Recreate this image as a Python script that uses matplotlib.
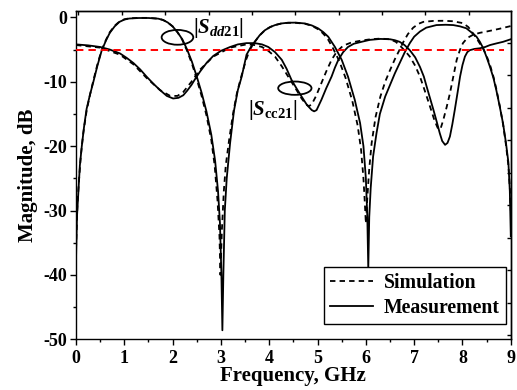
import numpy as np
import matplotlib
matplotlib.use("Agg")
import matplotlib.pyplot as plt
from matplotlib.patches import Ellipse
from matplotlib.ticker import MultipleLocator, NullLocator

# ---- data ----
# |Sdd21| measured
dd_meas_f = [0, 0.02, 0.05, 0.08, 0.12, 0.17, 0.22, 0.29, 0.36, 0.44, 0.53, 0.62, 0.70, 0.80, 0.90,
             1.0, 1.1, 1.3, 1.5, 1.7, 1.8, 1.9, 2.0, 2.1, 2.2, 2.3, 2.4, 2.5, 2.6, 2.7, 2.8, 2.88,
             2.94, 2.98, 3.01, 3.03, 3.05, 3.08, 3.12, 3.19, 3.27, 3.35, 3.43, 3.53, 3.62, 3.7, 3.8,
             3.91, 4.02, 4.12, 4.25, 4.39, 4.55, 4.74, 4.88, 5.01, 5.12, 5.22, 5.36, 5.5, 5.63, 5.77,
             5.88, 5.95, 6.0, 6.03, 6.05, 6.07, 6.1, 6.15, 6.22, 6.29, 6.4, 6.5, 6.6, 6.7, 6.8, 6.91,
             7.0, 7.12, 7.25, 7.46, 7.65, 7.81, 7.95, 8.08, 8.18, 8.29, 8.36, 8.43, 8.5, 8.57, 8.64,
             8.7, 8.77, 8.84, 8.9, 8.95, 8.98, 9.0]
dd_meas_db = [-37.6, -31, -27, -23, -20, -16.8, -14.2, -12, -10, -7.6, -5.2, -3.6, -2.4, -1.4, -0.7,
              -0.35, -0.18, -0.1, -0.1, -0.2, -0.4, -0.8, -1.4, -2.3, -3.4, -5.0, -6.9, -9.2, -11.7,
              -14.6, -18.2, -22.3, -27, -32, -40, -48.6, -40, -30, -25, -19.5, -14.5, -11.3, -9.2,
              -5.8, -4.6, -3.8, -2.8, -2.0, -1.5, -1.2, -0.95, -0.83, -0.82, -0.95, -1.25, -1.7,
              -2.3, -3.0, -4.6, -6.6, -9.2, -12.8, -16.4, -20, -25, -31, -39, -31, -26.5, -21.6,
              -18, -15, -12.3, -10.5, -8.7, -7.1, -5.5, -4.0, -3.0, -2.2, -1.6, -1.2, -1.15, -1.2,
              -1.4, -1.7, -2.3, -3.0, -3.8, -4.8, -6.2, -7.7, -9.4, -11.3, -13.8, -16.5, -19.5,
              -22.5, -27, -34]

# |Sdd21| simulated
dd_sim_f = [0, 0.03, 0.06, 0.1, 0.15, 0.22, 0.29, 0.36, 0.44, 0.53, 0.62, 0.70, 0.80, 0.90, 1.0,
            1.1, 1.3, 1.5, 1.7, 1.8, 1.9, 2.0, 2.1, 2.2, 2.3, 2.4, 2.5, 2.6, 2.7, 2.8, 2.87, 2.93,
            2.97, 2.99, 3.02, 3.06, 3.1, 3.17, 3.25, 3.33, 3.42, 3.52, 3.6, 3.7, 3.8, 3.91, 4.02,
            4.12, 4.25, 4.39, 4.55, 4.74, 4.88, 5.0, 5.1, 5.2, 5.32, 5.45, 5.58, 5.72, 5.83, 5.9,
            5.95, 5.98, 6.0, 6.03, 6.07, 6.12, 6.2, 6.3, 6.4, 6.5, 6.6, 6.7, 6.77, 6.87, 6.98,
            7.09, 7.19, 7.4, 7.6, 7.8, 8.01, 8.12, 8.22, 8.32, 8.43, 8.5, 8.57, 8.64, 8.7, 8.77,
            8.84, 8.9, 8.95, 8.98, 9.0]
dd_sim_db = [-36, -29, -25.5, -21.5, -18, -14.5, -12, -9.8, -7.4, -5.1, -3.5, -2.3, -1.3, -0.65,
             -0.3, -0.15, -0.08, -0.08, -0.2, -0.4, -0.8, -1.4, -2.3, -3.5, -5.2, -7.2, -9.6,
             -12.2, -15.2, -19, -23, -28.5, -34, -40, -33, -27, -23, -19, -15, -11.8, -9.2, -6.6,
             -5.0, -3.8, -2.8, -2.0, -1.5, -1.2, -0.95, -0.85, -0.85, -1.0, -1.3, -1.8, -2.4,
             -3.2, -4.8, -6.8, -9.4, -13, -16.8, -20.5, -25, -29, -32, -28, -23.5, -19.5, -15.5,
             -12.3, -10, -8.2, -6.5, -5.0, -3.9, -2.6, -1.6, -1.0, -0.7, -0.55, -0.53, -0.6, -0.9,
             -1.5, -2.5, -3.6, -4.9, -6.0, -7.4, -9.2, -11.1, -13.7, -16.6, -19.8, -23, -26.5, -30]

# |Scc21| measured
cc_meas_f = [0, 0.25, 0.5, 0.7, 0.91, 1.05, 1.19, 1.33, 1.46, 1.6, 1.74, 1.88, 2.01, 2.12, 2.22,
             2.3, 2.39, 2.48, 2.57, 2.7, 2.84, 3.0, 3.19, 3.35, 3.53, 3.7, 3.85, 3.98, 4.12, 4.26,
             4.36, 4.46, 4.57, 4.67, 4.78, 4.88, 4.93, 4.98, 5.08, 5.18, 5.29, 5.36, 5.43, 5.53,
             5.63, 5.75, 5.91, 6.08, 6.3, 6.5, 6.6, 6.7, 6.8, 6.91, 7.02, 7.12, 7.2, 7.26, 7.33,
             7.4, 7.47, 7.53, 7.58, 7.64, 7.69, 7.74, 7.79, 7.84, 7.9, 7.95, 8.0, 8.05, 8.1, 8.15,
             8.25, 8.36, 8.47, 8.57, 8.7, 8.84, 9.0]
cc_meas_db = [-4.2, -4.35, -4.6, -5.0, -5.6, -6.3, -7.1, -8.1, -9.2, -10.3, -11.3, -12.2, -12.6,
              -12.5, -12.1, -11.4, -10.5, -9.4, -8.4, -7.1, -6.0, -5.2, -4.6, -4.2, -4.0, -4.0,
              -4.2, -4.6, -5.4, -6.6, -8.0, -9.7, -11.1, -12.3, -13.6, -14.4, -14.6, -14.4,
              -12.8, -11.0, -9.2, -7.8, -6.6, -5.4, -4.6, -4.1, -3.8, -3.5, -3.35, -3.4, -3.55,
              -3.8, -4.3, -5.1, -6.2, -7.7, -9.2, -10.8, -12.6, -14.4, -16.3, -18.0, -19.2,
              -19.8, -19.5, -18.5, -16.6, -14.4, -11.6, -9.2, -7.4, -6.1, -5.4, -5.1, -4.9, -4.8,
              -4.6, -4.3, -4.05, -3.8, -3.4]

# |Scc21| simulated
cc_sim_f = [0, 0.5, 0.91, 1.19, 1.46, 1.74, 1.95, 2.1, 2.22, 2.39, 2.57, 2.84, 3.19, 3.53, 3.7,
            3.85, 3.98, 4.12, 4.26, 4.4, 4.55, 4.67, 4.76, 4.82, 4.88, 4.97, 5.08, 5.18, 5.29,
            5.4, 5.53, 5.7, 5.91, 6.1, 6.3, 6.5, 6.62, 6.72, 6.81, 6.91, 7.02, 7.12, 7.22, 7.33,
            7.42, 7.5, 7.55, 7.6, 7.67, 7.74, 7.81, 7.88, 7.95, 8.01, 8.1, 8.22, 8.36, 8.5, 8.75,
            9.0]
cc_sim_db = [-4.3, -4.7, -5.8, -7.3, -9.4, -11.3, -12.2, -12.2, -11.6, -10.0, -8.1, -6.1, -4.7,
             -4.2, -4.3, -4.6, -5.2, -6.1, -7.6, -9.3, -11.1, -12.6, -13.5, -13.8, -13.5, -12.2,
             -10.2, -8.4, -6.6, -5.3, -4.4, -3.9, -3.6, -3.4, -3.3, -3.4, -3.8, -4.5, -5.2, -6.1,
             -7.5, -9.2, -11.4, -13.9, -16.0, -17.4, -17.2, -16.0, -14.0, -11.8, -9.2, -6.6,
             -5.0, -4.0, -3.2, -2.7, -2.4, -2.2, -1.8, -1.35]

ref_level = -5          # red -5 dB line
ref_span = [0, 8.85]

xticks = [0, 1, 2, 3, 4, 5, 6, 7, 8, 9]
yticks = [0, -10, -20, -30, -40, -50]

# ---- style ----
plt.rcParams['font.family'] = 'Liberation Serif'
plt.rcParams['font.weight'] = 'bold'
plt.rcParams['axes.unicode_minus'] = False
plt.rcParams['mathtext.fontset'] = 'custom'
plt.rcParams['mathtext.rm'] = 'Liberation Serif:bold'
plt.rcParams['mathtext.bf'] = 'Liberation Serif:bold'
plt.rcParams['mathtext.it'] = 'Liberation Serif:bold:italic'
plt.rcParams['axes.linewidth'] = 1.0

fig = plt.figure(figsize=(5.17, 3.90), dpi=100)
ax = fig.add_axes([0.147, 0.130, 0.841, 0.842])

lw = 1.3
dash = (0, (3, 2.3))

sim_line, = ax.plot(dd_sim_f, dd_sim_db, color='black', lw=lw, linestyle=dash)
meas_line, = ax.plot(dd_meas_f, dd_meas_db, color='black', lw=lw)
ax.plot(cc_sim_f, cc_sim_db, color='black', lw=lw, linestyle=dash)
ax.plot(cc_meas_f, cc_meas_db, color='black', lw=lw)
ax.hlines(ref_level, ref_span[0], ref_span[1], colors='red', lw=1.4,
          linestyles=[(0, (3.8, 2.6))], zorder=5)

# annotations
ax.add_patch(Ellipse((2.10, -3.1), 0.655, 2.3, fill=False, lw=lw, color='black'))
ax.add_patch(Ellipse((4.53, -11.0), 0.69, 2.07, fill=False, lw=lw, color='black'))
ax.text(2.42, -2.45, r'$|S_{dd\mathrm{21}}|$', fontsize=15, ha='left', va='baseline')
ax.text(3.56, -15.2, r'$|S_{\mathrm{cc21}}|$', fontsize=15, ha='left', va='baseline')

ax.set_xlim(0, 9)
ax.set_ylim(-50, 1)
ax.set_xticks(xticks)
ax.set_yticks(yticks)
ax.xaxis.set_minor_locator(MultipleLocator(0.5))
ax.yaxis.set_minor_locator(MultipleLocator(5))
ax.tick_params(which='major', direction='out', length=4.5, width=1, labelsize=13, pad=3)
ax.tick_params(which='minor', direction='out', length=2.5, width=1)
ax.tick_params(axis='y', which='major', pad=2)

# mirror ticks on top / right (inward)
top = ax.secondary_xaxis('top')
top.set_xticks(np.arange(10) * 0.898 + 0.05)
top.xaxis.set_minor_locator(NullLocator())
top.tick_params(direction='in', length=3, width=1, labeltop=False)
right = ax.secondary_yaxis('right')
right.set_yticks(-3.95 - 5.05 * np.arange(10))
right.yaxis.set_minor_locator(NullLocator())
right.tick_params(direction='in', length=3, width=1, labelright=False)

ax.set_xlabel('Frequency, GHz', fontsize=15, fontweight='bold')
ax.set_ylabel('Magnitude, dB', fontsize=15, fontweight='bold')
ax.xaxis.set_label_coords(0.5, -0.082)
ax.yaxis.set_label_coords(-0.088, 0.5)

ax.legend([sim_line, meas_line], ['Simulation', 'Measurement'], loc='lower right',
          bbox_to_anchor=(0.989, 0.047), borderaxespad=0, fancybox=False,
          edgecolor='black', framealpha=1, fontsize=14.2, handlelength=2.2,
          handletextpad=0.55, borderpad=0.3, labelspacing=0.25)

fig.savefig('out.png', dpi=100)
